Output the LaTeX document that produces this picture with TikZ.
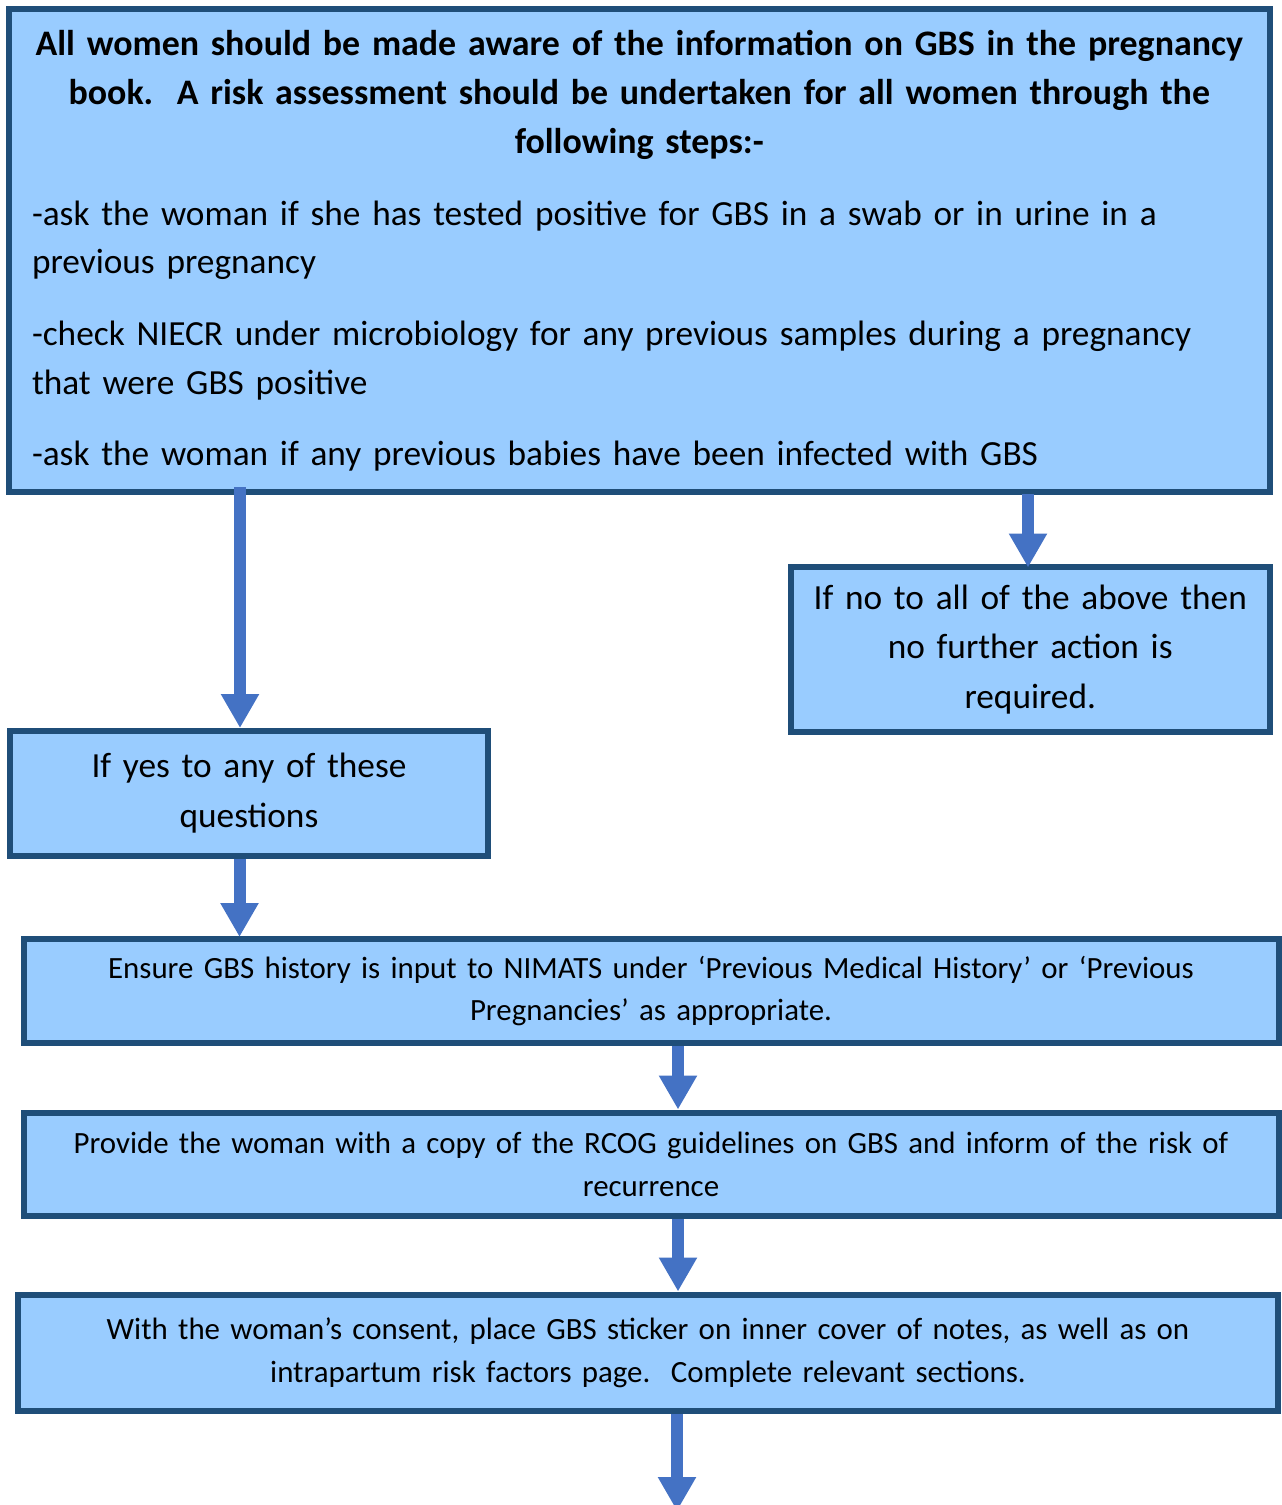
\documentclass[tikz,border=0pt]{standalone}
\usepackage{fontspec}
\setmainfont{Carlito}
\usetikzlibrary{arrows.meta}
\definecolor{boxfill}{HTML}{99CCFF}
\definecolor{boxline}{HTML}{1F4E79}
\definecolor{arrowblue}{HTML}{4472C4}
\tikzset{
  flowbox/.style={draw=boxline, fill=boxfill, line width=6pt, rectangle,
    inner xsep=0pt, inner ysep=0pt, align=center},
  bigtext/.style={font=\fontsize{35.3}{48.5}\selectfont},
  smalltext/.style={font=\fontsize{30.9}{42.5}\selectfont},
  flowarrow/.style={draw=arrowblue, line width=12pt,
    -{Triangle[width=36pt,length=34pt]}},
}
\begin{document}
\begin{tikzpicture}[x=1pt,y=-1pt]
\useasboundingbox (0,0) rectangle (1282,1505);
\clip (0,0) rectangle (1282,1505);

\node[flowbox, bigtext, minimum width=1260.5pt, minimum height=483pt,
      text width=1214.5pt, align=left] (top) at (639.25,250.5)
{\hyphenpenalty=10000{\fontsize{35.9}{49}\selectfont\bfseries
\makebox[\linewidth]{All women should be made aware of the information on GBS in the pregnancy}\\
\makebox[\linewidth]{book.\ \ A risk assessment should be undertaken for all women through the}\\
\makebox[\linewidth]{following steps:-}}\\[23.5pt]
-ask the woman if she has tested positive for GBS in a swab or in urine in a\\
previous pregnancy\\[23.5pt]
-check NIECR under microbiology for any previous samples during a pregnancy\\
that were GBS positive\\[22.5pt]
-ask the woman if any previous babies have been infected with GBS};

\node[flowbox, font=\fontsize{35.3}{49.5}\selectfont, minimum width=478.5pt, minimum height=165.5pt,
      text width=460pt] (no) at (1030.25,649.25)
{If no to all of the above then\\no further action is\\required.};

\node[flowbox, font=\fontsize{35.3}{50}\selectfont, minimum width=478pt, minimum height=124.5pt,
      text width=460pt] (yes) at (249,793.25)
{If yes to any of these\\questions};

\node[flowbox, smalltext, minimum width=1255pt, minimum height=104.5pt,
      text width=1230pt] (nimats) at (651,990.75)
{Ensure GBS history is input to NIMATS under ‘Previous Medical History’ or ‘Previous\\Pregnancies’ as appropriate.};

\node[flowbox, smalltext, minimum width=1255pt, minimum height=103.5pt,
      text width=1230pt] (rcog) at (651,1164.25)
{Provide the woman with a copy of the RCOG guidelines on GBS and inform of the risk of\\recurrence};

\node[flowbox, smalltext, minimum width=1260pt, minimum height=116.5pt,
      text width=1230pt] (sticker) at (648,1352.75)
{With the woman’s consent, place GBS sticker on inner cover of notes, as well as on\\intrapartum risk factors page.\ \ Complete relevant sections.};

\coordinate (next) at (677,1511);

\draw[flowarrow] ([xshift=234pt,yshift=8pt]top.south west) -- ([xshift=233pt]yes.north west);
\draw[flowarrow] ([xshift=1022pt,yshift=1pt]top.south west) -- ([xshift=240pt,yshift=-4pt]no.north west);
\draw[flowarrow] ([xshift=232.5pt]yes.south west) -- ([xshift=219pt,yshift=-1.5pt]nimats.north west);
\draw[flowarrow] ([xshift=657.5pt]nimats.south west) -- ([xshift=657.5pt]rcog.north west);
\draw[flowarrow] ([xshift=657.5pt]rcog.south west) -- ([xshift=663pt]sticker.north west);
\draw[flowarrow] ([xshift=662pt]sticker.south west) -- (next);
\end{tikzpicture}
\end{document}
